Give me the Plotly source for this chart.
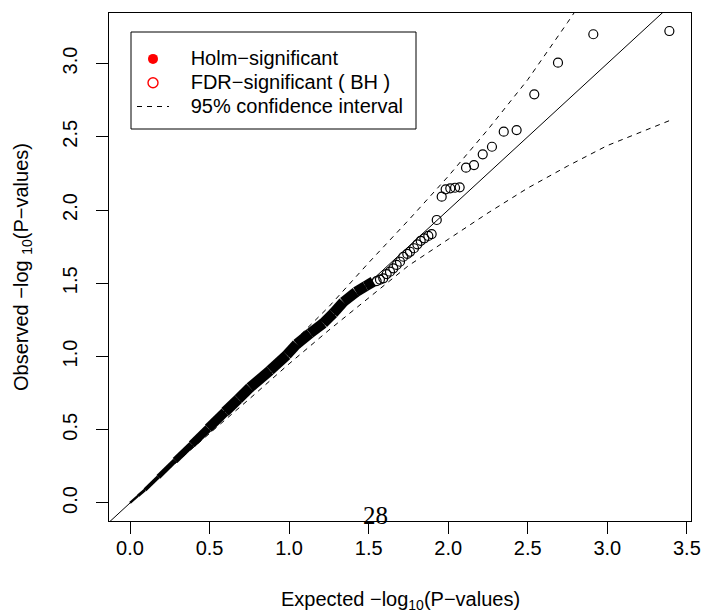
import plotly.graph_objects as go

# ---------------- data ----------------
# dense part of the QQ cloud (expected, observed) -- appears as a solid band
band_expected = [0.0, 0.05, 0.094, 0.178, 0.283, 0.388, 0.492, 0.597, 0.681, 0.754,
                 0.880, 0.985, 1.048, 1.131, 1.215, 1.278, 1.341, 1.42, 1.48, 1.529]
band_observed = [0.0, 0.048, 0.089, 0.178, 0.290, 0.400, 0.510, 0.622, 0.710, 0.788,
                 0.905, 1.010, 1.085, 1.158, 1.227, 1.295, 1.372, 1.44, 1.48, 1.511]

# individually visible points in the upper tail
tail_expected = [1.550, 1.571, 1.592, 1.613, 1.634, 1.655, 1.676, 1.697, 1.718, 1.743,
                 1.760, 1.785, 1.806, 1.827, 1.850, 1.875, 1.896, 1.928, 1.959, 1.984,
                 2.013, 2.043, 2.072, 2.112, 2.162, 2.217, 2.275, 2.349, 2.430, 2.541,
                 2.690, 2.912, 3.390]
tail_observed = [1.515, 1.525, 1.534, 1.563, 1.579, 1.602, 1.625, 1.647, 1.681, 1.700,
                 1.715, 1.739, 1.766, 1.790, 1.807, 1.823, 1.836, 1.932, 2.091, 2.141,
                 2.148, 2.152, 2.155, 2.289, 2.307, 2.380, 2.432, 2.535, 2.546, 2.790,
                 3.006, 3.200, 3.222]

# significant points (none in this chart)
holm_expected, holm_observed = [], []
fdr_expected, fdr_observed = [], []

# 95% confidence band
ci_upper_x = [0.0, 0.25, 0.5, 0.75, 1.0, 1.25, 1.5, 1.75, 2.0, 2.25, 2.5, 2.75, 2.8]
ci_upper_y = [0.0, 0.26, 0.525, 0.79, 1.07, 1.34, 1.64, 1.93, 2.23, 2.55, 2.89, 3.28, 3.36]
ci_lower_x = [0.0, 0.25, 0.5, 0.75, 1.0, 1.25, 1.5, 1.75, 2.0, 2.25, 2.5, 2.75, 3.0, 3.2, 3.39]
ci_lower_y = [0.0, 0.24, 0.475, 0.71, 0.95, 1.18, 1.40, 1.62, 1.80, 1.98, 2.15, 2.30, 2.44, 2.53, 2.61]

# reference line y = x
abline_range = [-1.0, 4.0]

x_ticks = [0.0, 0.5, 1.0, 1.5, 2.0, 2.5, 3.0, 3.5]
y_ticks = [0.0, 0.5, 1.0, 1.5, 2.0, 2.5, 3.0]
legend_names = ["Holm\u2212significant", "FDR\u2212significant ( BH )",
                "95% confidence interval"]
count_label = "28"
count_label_pos = (1.54, -0.083)

# ---------------- figure ----------------
FONT = "Liberation Sans, Arial, Helvetica, sans-serif"
FS = 20
W, H = 702, 612
ML, MR, MT, MB = 109, 11, 13, 91
PW, PH = W - ML - MR, H - MT - MB


def px_to_paper(px, py):
    return (px - ML) / PW, (H - MB - py) / PH


def leg_label(s):
    return f'<span style="font-size:{FS}px">\u00a0\u00a0\u00a0{s}</span>'


fig = go.Figure()

# diagonal
fig.add_trace(go.Scatter(x=abline_range, y=abline_range, mode="lines",
                         line=dict(color="black", width=1), showlegend=False,
                         hoverinfo="skip"))

# dense band, drawn piecewise so it tapers near the origin like the original
for i in range(len(band_expected) - 1):
    xm = 0.5 * (band_expected[i] + band_expected[i + 1])
    w = max(2.0, min(10.5, 2.0 + 14.0 * xm))
    fig.add_trace(go.Scatter(x=band_expected[i:i + 2], y=band_observed[i:i + 2],
                             mode="lines", line=dict(color="black", width=w),
                             showlegend=False, hoverinfo="skip"))

# tail points
fig.add_trace(go.Scatter(x=tail_expected, y=tail_observed, mode="markers",
                         marker=dict(symbol="circle-open", size=9, color="black",
                                     line=dict(width=1.2)),
                         showlegend=False))

# legend entries (significant sets are empty here)
fig.add_trace(go.Scatter(x=holm_expected or [None], y=holm_observed or [None],
                         mode="markers", name=leg_label(legend_names[0]),
                         marker=dict(symbol="circle", size=10, color="red")))
fig.add_trace(go.Scatter(x=fdr_expected or [None], y=fdr_observed or [None],
                         mode="markers", name=leg_label(legend_names[1]),
                         marker=dict(symbol="circle-open", size=10, color="red",
                                     line=dict(width=1.4))))
fig.add_trace(go.Scatter(x=ci_upper_x, y=ci_upper_y, mode="lines",
                         name=leg_label(legend_names[2]), legendgroup="ci",
                         line=dict(color="black", width=1, dash="5px,5px")))
fig.add_trace(go.Scatter(x=ci_lower_x, y=ci_lower_y, mode="lines",
                         legendgroup="ci", showlegend=False,
                         line=dict(color="black", width=1, dash="5px,5px")))

fig.add_annotation(x=count_label_pos[0], y=count_label_pos[1], text=count_label,
                   showarrow=False, xref="x", yref="y",
                   font=dict(family="Liberation Serif, Times New Roman, serif",
                             size=25, color="black"))

fig.add_annotation(x=0.5, y=-0.157, xref="paper", yref="paper",
                   text="Expected \u2212log<sub>10</sub>(P\u2212values)",
                   showarrow=False, xanchor="center", yanchor="middle",
                   font=dict(family=FONT, size=FS, color="black"))
fig.add_annotation(x=-0.1495, y=0.5, xref="paper", yref="paper",
                   text="Observed \u2212log <sub>10</sub>(P\u2212values)",
                   textangle=-90, showarrow=False, xanchor="center", yanchor="middle",
                   font=dict(family=FONT, size=FS, color="black"))

# legend frame
bx0, by0 = px_to_paper(131, 129)
bx1, by1 = px_to_paper(416, 32)
fig.add_shape(type="rect", xref="paper", yref="paper", x0=bx0, y0=by0, x1=bx1, y1=by1,
              line=dict(color="black", width=1), fillcolor="rgba(0,0,0,0)", layer="above")

lx, ly = px_to_paper(132, 42)

axis_common = dict(showline=True, linecolor="black", linewidth=1, mirror=True,
                   ticks="outside", ticklen=12, tickwidth=1, tickcolor="black",
                   showgrid=False, zeroline=False, automargin=False,
                   tickfont=dict(family=FONT, size=FS, color="black"))

fig.update_layout(
    width=W, height=H,
    margin=dict(l=ML, r=MR, t=MT, b=MB, autoexpand=False),
    paper_bgcolor="white", plot_bgcolor="white",
    font=dict(family=FONT, size=FS, color="black"),
    xaxis=dict(range=[-0.132, 3.526], tickvals=x_ticks, ticklabelstandoff=-3,
               ticktext=[f"{v:.1f}" for v in x_ticks], **axis_common),
    yaxis=dict(range=[-0.123, 3.345], tickvals=y_ticks, ticklabelstandoff=11,
               ticktext=[f"{v:.1f}" for v in y_ticks], tickangle=-90, **axis_common),
    legend=dict(x=lx, y=ly, xanchor="left", yanchor="top",
                borderwidth=0, bgcolor="rgba(0,0,0,0)",
                font=dict(family=FONT, size=16, color="black"),
                itemwidth=32, tracegroupgap=0),
    showlegend=True,
)

fig.write_html("out.html", config={"displayModeBar": False},
               post_script="document.body.style.margin='0px';"
                           "document.body.style.padding='0px';")
